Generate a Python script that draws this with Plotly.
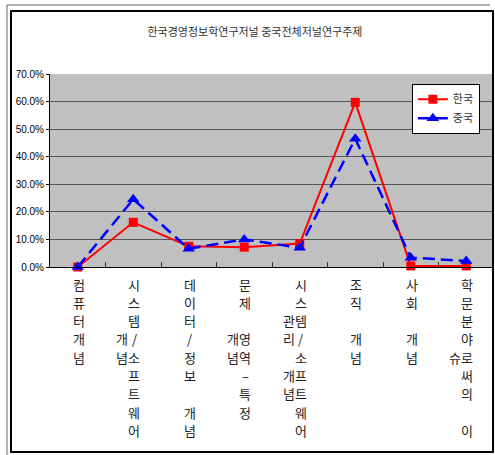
import plotly.graph_objects as go

# Research-topic shares (%), Korean MIS journal vs. Chinese journals
categories = ["컴퓨터 개념", "시스템/소프트웨어 개념", "데이터/정보 개념", "문제영역-특정 개념",
              "시스템/소프트웨어 관리 개념", "조직 개념", "사회 개념", "학문분야로써의 이슈"]
korea = [0.0, 16.2, 7.5, 7.2, 8.5, 59.7, 0.4, 0.4]
china = [0.0, 24.6, 6.6, 10.0, 7.0, 46.5, 3.4, 2.2]
series_names = ["한국", "중국"]

# Category labels written vertically, one glyph per row.
# A space is an empty row; the side column holds glyphs that wrap to the left.
label_main = ["컴퓨터개념", "시스템/소프트웨어", "데이터/정보 개념", "문제 영역–특정",
              "시스템/소프트웨어", "조직 개념", "사회 개념", "학문분야로써의 이"]
label_side = ["", "   개념", "", "   개념", "  관리 개념", "", "", "    슈"]

y_ticks = [0, 10, 20, 30, 40, 50, 60, 70]
y_tick_text = ["0.0%", "10.0%", "20.0%", "30.0%", "40.0%", "50.0%", "60.0%", "70.0%"]

fig = go.Figure()
fig.add_trace(go.Scatter(
    x=categories, y=korea, name=series_names[0], mode="lines+markers",
    line=dict(color="#FF0000", width=2),
    marker=dict(symbol="square", size=9, color="#FF0000"),
    cliponaxis=False,
))
fig.add_trace(go.Scatter(
    x=categories, y=china, name=series_names[1], mode="lines+markers",
    line=dict(color="#0000FF", width=2.5, dash="12px,6px"),
    marker=dict(symbol="triangle-up", size=11, color="#0000FF"),
    cliponaxis=False,
))

# Vertical category labels under the axis
row_gap = 18.3
label_font = dict(family="Noto Sans CJK KR", size=13, color="#222222")
for cat, main, side in zip(categories, label_main, label_side):
    for column, xshift in ((main, 1), (side, -11)):
        for r, ch in enumerate(column):
            if ch == " ":
                continue
            fig.add_annotation(
                x=cat, xref="x", y=0, yref="paper",
                text=ch, showarrow=False, font=label_font,
                xanchor="center", yanchor="middle",
                xshift=xshift, yshift=-(17 + row_gap * r),
            )

fig.update_layout(
    width=495, height=455,
    margin=dict(l=50, r=1, t=74, b=188),
    paper_bgcolor="white",
    plot_bgcolor="#C0C0C0",
    showlegend=True,
    title=dict(
        text="한국경영정보학연구저널 중국전체저널연구주제",
        x=0.515, xanchor="center", y=0.93, yanchor="middle",
        font=dict(family="Noto Sans CJK KR", size=11, color="#333333"),
    ),
    legend=dict(
        x=0.815, y=0.95, xanchor="left", yanchor="top",
        bgcolor="white", bordercolor="black", borderwidth=1,
        font=dict(family="Noto Sans CJK KR", size=11, color="#333333"),
        itemwidth=30, tracegroupgap=0,
    ),
    font=dict(family="Noto Sans CJK KR", color="black"),
)

fig.update_xaxes(
    type="category",
    range=[-0.5, len(categories) - 0.5],
    showticklabels=False,
    showgrid=False, zeroline=False,
    showline=True, linecolor="black", linewidth=1,
    ticks="inside", ticklen=5, tickcolor="#333333",
    tickson="boundaries",
)
fig.update_yaxes(
    range=[0, 70],
    tickmode="array", tickvals=y_ticks, ticktext=y_tick_text,
    tickfont=dict(family="Liberation Sans", size=10, color="black"),
    showgrid=True, gridcolor="#555555", gridwidth=1,
    zeroline=False,
    showline=True, linecolor="black", linewidth=1,
    ticks="outside", ticklen=3, tickcolor="black",
)

# Double border around the chart
fig.add_shape(type="rect", xref="paper", yref="paper",
              x0=(11 - 50) / 444, x1=(493 - 50) / 444,
              y0=(267 - 452) / 193, y1=(267 - 11) / 193,
              line=dict(color="black", width=2), layer="above")
fig.add_shape(type="path", xref="paper", yref="paper",
              path=f"M {(7 - 50) / 444},{(267 - 455) / 193} L {(7 - 50) / 444},{(267 - 5) / 193} L {(490 - 50) / 444},{(267 - 5) / 193}",
              line=dict(color="#666666", width=1), layer="above")

fig.write_html("out.html")
